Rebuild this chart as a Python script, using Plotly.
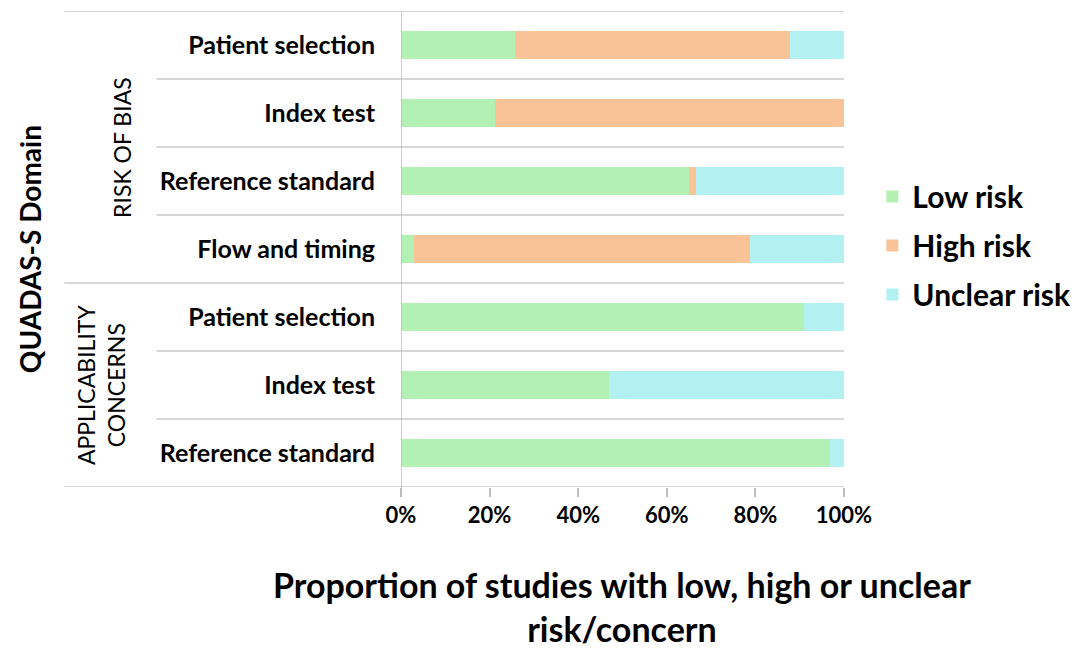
import plotly.graph_objects as go

domains = ["Patient selection", "Index test", "Reference standard", "Flow and timing",
           "Patient selection", "Index test", "Reference standard"]
positions = [0, 1, 2, 3, 4, 5, 6]
low_risk = [25.7, 21.2, 65.1, 2.9, 91.0, 46.9, 96.9]
high_risk = [62.1, 78.8, 1.4, 75.8, 0.0, 0.0, 0.0]
unclear_risk = [12.2, 0.0, 33.5, 21.3, 9.0, 53.1, 3.1]
series_names = ["Low risk", "High risk", "Unclear risk"]
colors = ["#b3f0b3", "#f9c397", "#b2f0f1"]
x_ticks = [0, 20, 40, 60, 80, 100]
x_tick_labels = ["0%", "20%", "40%", "60%", "80%", "100%"]

FONT = "Lato"

fig = go.Figure()
for i, (name, vals) in enumerate(zip(series_names, [low_risk, high_risk, unclear_risk])):
    fig.add_trace(go.Bar(
        y=positions, x=vals, name="<b>" + name + "</b>", orientation="h",
        marker=dict(color=colors[i], line=dict(width=0)),
        width=0.4, legendgroup=name,
        hovertemplate="%{x}%<extra>" + name + "</extra>",
    ))

# horizontal separator lines
shapes = []
for b in [-0.5, 3.5, 6.5]:
    shapes.append(dict(type="line", xref="paper", yref="y", x0=-0.76, x1=1, y0=b, y1=b,
                       line=dict(color="#c9c9c9", width=1.5), layer="below"))
for b in [0.5, 1.5, 2.5, 4.5, 5.5]:
    shapes.append(dict(type="line", xref="paper", yref="y", x0=-0.552, x1=1, y0=b, y1=b,
                       line=dict(color="#c9c9c9", width=1.5), layer="below"))
# vertical axis line
shapes.append(dict(type="line", xref="x", yref="paper", x0=0, x1=0, y0=-0.02, y1=1,
                   line=dict(color="#bdbdbd", width=1.5)))

annotations = [
    dict(text="RISK OF BIAS", xref="paper", yref="y", x=-0.630, y=1.5, textangle=-90,
         xanchor="center", yanchor="middle",
         showarrow=False, font=dict(family=FONT, size=23, color="#000")),
    dict(text="APPLICABILITY<br>CONCERNS", xref="paper", yref="y", x=-0.677, y=5.0, textangle=-90,
         xanchor="center", yanchor="middle",
         showarrow=False, font=dict(family=FONT, size=23, color="#000")),
    dict(text="<b>QUADAS-S Domain</b>", xref="paper", yref="paper", x=-0.837, y=0.50, textangle=-90,
         xanchor="center", yanchor="middle",
         showarrow=False, font=dict(family=FONT, size=28, color="#000")),
    dict(text="<b>Proportion of studies with low, high or unclear<br>risk/concern</b>", xref="paper",
         yref="paper", x=0.499, y=-0.25, xanchor="center", yanchor="middle", showarrow=False,
         font=dict(family=FONT, size=34, color="#000")),
]

fig.update_layout(
    barmode="stack",
    width=1080, height=648,
    margin=dict(l=401, r=236, t=11, b=161, autoexpand=False),
    paper_bgcolor="white", plot_bgcolor="white",
    font=dict(family=FONT, color="#000"),
    showlegend=True,
    legend=dict(x=1.064, y=0.665, xanchor="left", yanchor="top",
                font=dict(family=FONT, size=30, color="#000"),
                tracegroupgap=7, itemclick=False, itemdoubleclick=False,
                bgcolor="rgba(0,0,0,0)"),
    xaxis=dict(range=[0, 100], tickvals=x_ticks, ticktext=["<b>" + t + "</b>" for t in x_tick_labels],
               showgrid=False, zeroline=False,
               showline=False, ticks="outside", ticklen=9, tickcolor="#bdbdbd", tickwidth=1.5,
               tickfont=dict(family=FONT, size=22, color="#000"), fixedrange=True),
    yaxis=dict(range=[6.5, -0.5], tickvals=positions, ticktext=["<b>" + d + "</b>" for d in domains],
               showgrid=False, zeroline=False, showline=False, ticks="outside", ticklen=20,
               tickcolor="rgba(0,0,0,0)", tickfont=dict(family=FONT, size=25, color="#000"),
               fixedrange=True),
    shapes=shapes,
    annotations=annotations,
)

fig.write_html("out.html", config={"displayModeBar": False},
               post_script="document.body.style.margin='0';document.body.style.overflow='hidden';")
